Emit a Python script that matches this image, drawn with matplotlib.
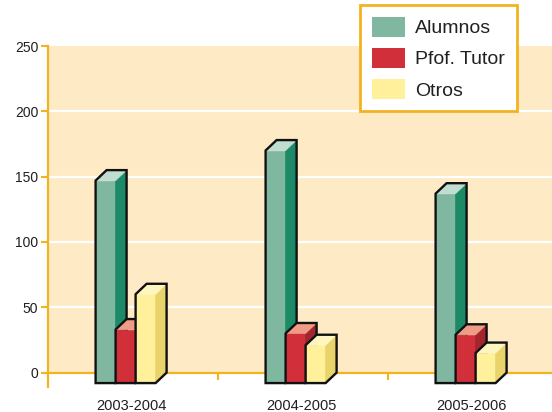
import matplotlib.pyplot as plt
from matplotlib.patches import Polygon, Patch

plt.rcParams['font.family'] = ['Liberation Sans', 'DejaVu Sans']

cursos = ['2003-2004', '2004-2005', '2005-2006']
series = ['Alumnos', 'Pfof. Tutor', 'Otros']
alumnos = [155, 178, 145]
tutor = [41, 38, 37]
otros = [68, 29, 23]
yticks = [0, 50, 100, 150, 200, 250]

# front, side, top shades for each series
colores = [
    ('#7FB7A1', '#1C8A66', '#BFDDD0'),
    ('#D12F3A', '#A3262F', '#EE9C86'),
    ('#FFF09B', '#E9D46B', '#FFF5C0'),
]
naranja = '#F2B320'
fondo = '#FEEBC6'
texto = '#231F20'

W, H = 552, 412
fig = plt.figure(figsize=(W / 100, H / 100), dpi=100)
ax = fig.add_axes([48 / W, (H - 387) / H, 1 - 48 / W, (387 - 46) / H])
ax.set_xlim(0, (W - 48) / 170)
ax.set_ylim(-11, 250)

# back wall and grid
ax.axhspan(0, 250, color=fondo, zorder=0, lw=0)
for g in yticks[1:-1]:
    ax.axhline(g, color='white', lw=1.6, zorder=1)

ancho = 20 / 170   # bar width
dx = 11 / 170      # depth offset in x
d = 8              # depth offset in value units
inicio = 0.28


def barra(x, v, cols, z):
    fr, sd, tp = cols
    front = [(x, -d), (x + ancho, -d), (x + ancho, v - d), (x, v - d)]
    side = [(x + ancho, -d), (x + ancho + dx, 0), (x + ancho + dx, v), (x + ancho, v - d)]
    top = [(x, v - d), (x + ancho, v - d), (x + ancho + dx, v), (x + dx, v)]
    for pts, c in ((front, fr), (side, sd), (top, tp)):
        ax.add_patch(Polygon(pts, closed=True, facecolor=c, edgecolor=c, lw=0.5, zorder=z))
    silueta = [(x, -d), (x + ancho, -d), (x + ancho + dx, 0), (x + ancho + dx, v),
               (x + dx, v), (x, v - d)]
    ax.add_patch(Polygon(silueta, closed=True, fill=False, edgecolor='#111111',
                         lw=1.7, joinstyle='miter', zorder=z + 0.5))


datos = [alumnos, tutor, otros]
for i in range(len(cursos)):
    for j, vals in enumerate(datos):
        barra(i + inicio + j * ancho, vals[i], colores[j], 3 + j)

# axes styling
for s in ['top', 'right']:
    ax.spines[s].set_visible(False)
ax.spines['left'].set_color(naranja)
ax.spines['left'].set_linewidth(1.6)
ax.spines['bottom'].set_position(('data', 0))
ax.spines['bottom'].set_color(naranja)
ax.spines['bottom'].set_linewidth(1.6)
ax.spines['bottom'].set_zorder(2)

ax.set_yticks(yticks)
ax.tick_params(axis='y', colors=naranja, labelcolor=texto, labelsize=10,
               length=5, width=1.5, pad=2)
ax.set_xticks([1, 2])
ax.set_xticklabels([])
ax.tick_params(axis='x', colors=naranja, length=5, width=1.5)
for i, c in enumerate(cursos):
    ax.text(i + 0.49, -20, c, ha='center', va='top', fontsize=10.5, color=texto)

handles = [Patch(facecolor=c[0], edgecolor='none') for c in colores]
leg = fig.legend(handles, series, loc='upper left',
                 bbox_to_anchor=(360 / W, (H - 5) / H), fontsize=14,
                 frameon=True, fancybox=False, framealpha=1,
                 handlelength=1.7, handleheight=1.2,
                 handletextpad=0.55, labelspacing=0.55, borderpad=0.6,
                 borderaxespad=0)
leg.get_frame().set_edgecolor(naranja)
leg.get_frame().set_linewidth(2)
for t in leg.get_texts():
    t.set_color(texto)

fig.savefig('out.png', dpi=100)
